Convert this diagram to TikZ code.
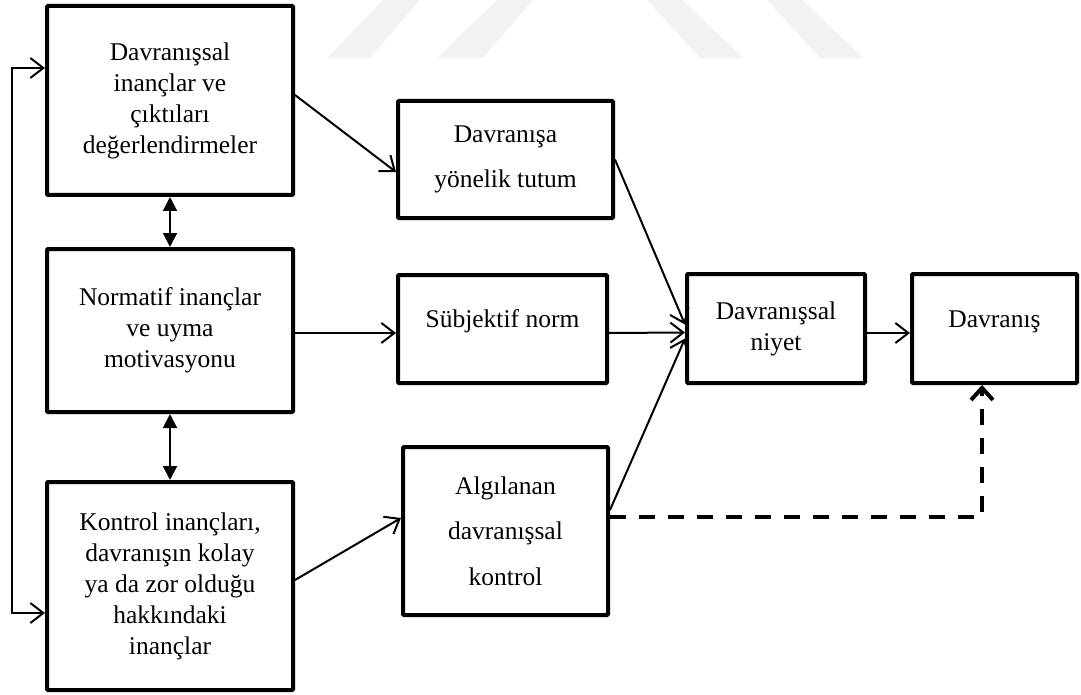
\documentclass[tikz,border=0pt]{standalone}
\usepackage{fontspec}
\setmainfont{Liberation Serif}
\usetikzlibrary{arrows.meta}
\begin{document}
\begin{tikzpicture}[x=1pt,y=-1pt,
  box/.style={draw, line width=4pt, rounded corners=1pt, align=center, inner sep=0pt,
    font=\fontsize{25.5}{31}\selectfont},
  widebox/.style={box, font=\fontsize{25.5}{45.5}\selectfont},
  txt/.style={align=center, inner sep=0pt, font=\fontsize{25.5}{31}\selectfont},
  arr/.style={line width=2pt, -{Straight Barb[length=13pt,width=20pt,line width=2pt]}},
  dbl/.style={line width=2pt, {Triangle[length=14pt,width=14pt]}-{Triangle[length=14pt,width=14pt]}},
  dasharr/.style={line width=4pt, dash pattern=on 16pt off 13pt, -{Straight Barb[length=12pt,width=22pt,line width=4pt]}}
]
\useasboundingbox (0,0) rectangle (1081,695);
% watermark
\fill[black!5] (327,58) -- (370,58) -- (420,0) -- (383,0) -- cycle;
\fill[black!5] (437,58) -- (483,58) -- (533,0) -- (497,0) -- cycle;
\fill[black!5] (647,0) -- (683,0) -- (743,58) -- (700,58) -- cycle;
\fill[black!5] (767,0) -- (803,0) -- (863,58) -- (820,58) -- cycle;

\node[box, minimum width=246pt, minimum height=189pt] (b1) at (170,100.5)
  {Davranışsal\\inançlar ve\\çıktıları\\değerlendirmeler};
\node[box, minimum width=246pt, minimum height=163pt] (b2) at (170,330.5)
  {Normatif inançlar\\ve uyma\\motivasyonu};
\node[box, minimum width=246pt, minimum height=208pt] (b3) at (170,586)
  {Kontrol inançları,\\davranışın kolay\\ya da zor olduğu\\hakkındaki\\inançlar};
\node[widebox, minimum width=215pt, minimum height=117pt] (b4) at (505.5,159.5)
  {Davranışa\\yönelik tutum};
\node[box, minimum width=209pt, minimum height=108pt] (b5) at (502.5,329) {};
\node[txt] (t5) at ([yshift=8pt]b5.center) {Sübjektif norm};
\node[widebox, minimum width=205pt, minimum height=168pt] (b6) at (505.5,531)
  {Algılanan\\davranışsal\\kontrol};
\node[box, minimum width=178pt, minimum height=109pt] (b7) at (776,328.5)
  {Davranışsal\\niyet};
\node[box, minimum width=165pt, minimum height=109pt] (b8) at (994.5,328.5) {};
\node[txt] (t8) at ([yshift=7pt]b8.center) {Davranış};

% feedback loop
\coordinate (fb) at (12,0);
\draw[line width=2pt, {Straight Barb[length=13pt,width=20pt,line width=2pt]}-{Straight Barb[length=13pt,width=20pt,line width=2pt]}]
  ([yshift=32.5pt]b1.west) -- ([yshift=32.5pt]b1.west -| fb) -- ([yshift=-27pt]b3.west -| fb) -- ([yshift=-27pt]b3.west);

% double arrows
\draw[dbl] (b1.south) -- (b2.north);
\draw[dbl] (b2.south) -- (b3.north);

% main arrows
\draw[arr] ([yshift=5.5pt]b1.east) -- ([yshift=-12.5pt]b4.west);
\draw[arr] ([yshift=-2.5pt]b2.east) -- ([yshift=-4pt]b5.west);
\draw[arr] ([yshift=6pt]b3.east) -- ([yshift=13pt]b6.west);
\draw[arr] (b4.east) -- ([yshift=4pt]b7.west);
\draw[arr] ([yshift=-4pt]b5.east) -- ([yshift=-4pt]b7.west);
\draw[arr] ([yshift=21pt]b6.east) -- ([yshift=-10pt]b7.west);
\draw[arr] ([yshift=-4.5pt]b7.east) -- ([yshift=-4.5pt]b8.west);

% dashed
\draw[dasharr] ([yshift=14pt]b6.east) -| ([xshift=-12.5pt]b8.south);
\end{tikzpicture}
\end{document}
